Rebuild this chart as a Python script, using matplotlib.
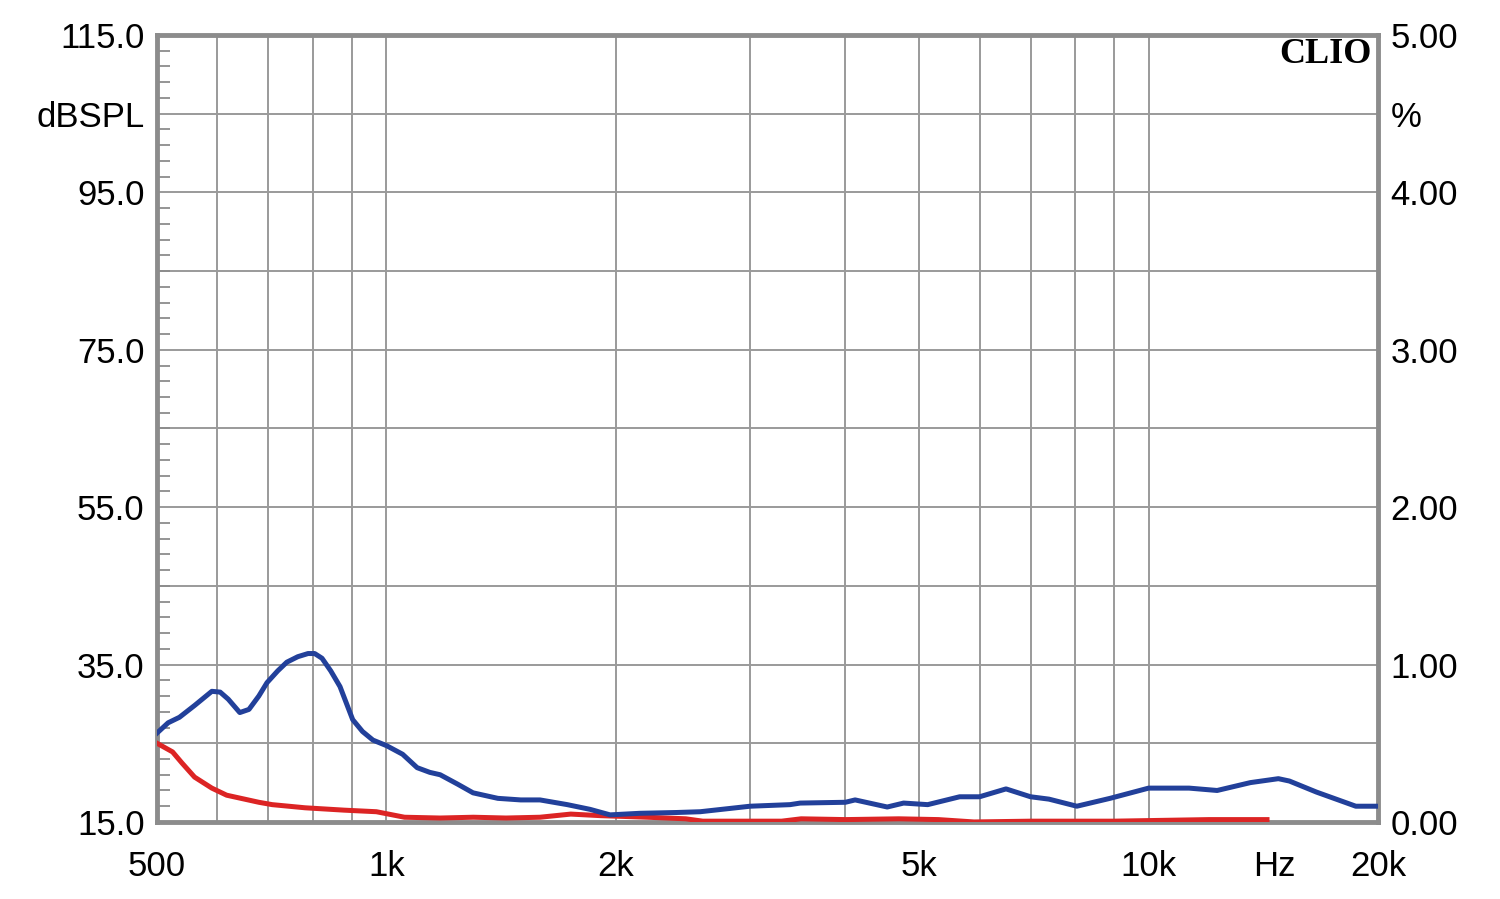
import numpy as np
import matplotlib.pyplot as plt
from matplotlib.ticker import FixedLocator, NullFormatter, NullLocator

# blue response curve (Hz, dBSPL)
blue_f = [500, 517, 535, 560, 590, 605, 620, 642, 660, 680, 697, 720, 740, 765,
          789, 805, 823, 845, 869, 903, 930, 960, 1000, 1050, 1097, 1140, 1176,
          1240, 1299, 1400, 1500, 1590, 1727, 1850, 1965, 2150, 2400, 2580, 3000,
          3385, 3490, 4000, 4120, 4540, 4770, 5130, 5650, 6000, 6500, 7000, 7400,
          8050, 8900, 10000, 11300, 12300, 13600, 14800, 15300, 16600, 18700, 20000]
blue_db = [26.3, 27.6, 28.3, 29.8, 31.6, 31.5, 30.6, 28.9, 29.3, 31.0, 32.7, 34.2,
           35.3, 36.0, 36.4, 36.4, 35.8, 34.2, 32.2, 28.0, 26.5, 25.4, 24.7, 23.6,
           21.9, 21.3, 21.0, 19.8, 18.7, 18.0, 17.8, 17.8, 17.2, 16.6, 15.9, 16.1,
           16.2, 16.3, 17.0, 17.2, 17.4, 17.5, 17.8, 16.9, 17.4, 17.2, 18.2, 18.2,
           19.2, 18.2, 17.9, 17.0, 18.0, 19.3, 19.3, 19.0, 20.0, 20.5, 20.2, 18.8,
           17.0, 17.0]

# red distortion curve (Hz, dBSPL scale)
red_f = [500, 524, 539, 560, 590, 617, 680, 708, 782, 880, 970, 1056, 1176, 1300,
         1435, 1590, 1745, 1910, 2200, 2470, 2600, 3300, 3500, 4000, 4700, 5300,
         5900, 7000, 9000, 12000, 14300]
red_db = [25.0, 23.9, 22.5, 20.7, 19.3, 18.4, 17.5, 17.2, 16.8, 16.5, 16.3, 15.6,
          15.5, 15.6, 15.5, 15.6, 16.0, 15.8, 15.6, 15.4, 15.1, 15.1, 15.4, 15.3,
          15.4, 15.3, 15.0, 15.1, 15.1, 15.3, 15.3]

xtick_pos = [500, 1000, 2000, 5000, 10000, 14600, 20000]
xtick_lab = ['500', '1k', '2k', '5k', '10k', 'Hz', '20k']
xgrid = [600, 700, 800, 900, 1000, 2000, 3000, 4000, 5000, 6000, 7000, 8000,
         9000, 10000]
ytick_pos = [15, 35, 55, 75, 95, 105, 115]
ytick_lab = ['15.0', '35.0', '55.0', '75.0', '95.0', 'dBSPL', '115.0']
rtick_lab = ['0.00', '1.00', '2.00', '3.00', '4.00', '%', '5.00']

plt.rcParams['font.family'] = ['Liberation Sans', 'DejaVu Sans']

fig = plt.figure(figsize=(15, 8.99), dpi=100)
ax = fig.add_axes([0.1047, 0.0857, 0.8140, 0.8754])
ax.set_xscale('log')
ax.set_xlim(500, 20000)
ax.set_ylim(15, 115)

grid_c = '#9a9a9a'
for f in xgrid:
    ax.axvline(f, color=grid_c, lw=1.4, zorder=1)
for v in range(25, 115, 10):
    ax.axhline(v, color=grid_c, lw=1.4, zorder=1)

ax.plot(red_f, red_db, color='#dc2424', lw=3.6, zorder=3, solid_joinstyle='round')
ax.plot(blue_f, blue_db, color='#22409a', lw=3.6, zorder=4, solid_joinstyle='round')

for s in ax.spines.values():
    s.set_color('#8c8c8c')
    s.set_linewidth(3.5)

ax.xaxis.set_major_locator(FixedLocator(xtick_pos))
ax.set_xticklabels(xtick_lab, fontsize=25)
ax.xaxis.set_minor_locator(NullLocator())
ax.xaxis.set_minor_formatter(NullFormatter())
ax.tick_params(axis='x', length=0, pad=20)

ax.set_yticks(ytick_pos)
ax.set_yticklabels(ytick_lab, fontsize=25)
ax.set_yticks(np.arange(15, 116, 2), minor=True)
ax.tick_params(axis='y', which='major', length=0, pad=9)
ax.tick_params(axis='y', which='minor', direction='in', length=9, width=1.3,
               color='#8c8c8c', left=True, right=True)

rax = ax.twinx()
rax.set_ylim(15, 115)
rax.set_yticks(ytick_pos)
rax.set_yticklabels(rtick_lab, fontsize=25)
rax.tick_params(axis='y', length=0, pad=9)
for s in rax.spines.values():
    s.set_visible(False)

ax.text(0.995, 0.996, 'CLIO', transform=ax.transAxes, ha='right', va='top',
        fontsize=26, fontweight='bold', family=['Liberation Serif', 'DejaVu Serif'])

fig.savefig('out.png', dpi=100)
